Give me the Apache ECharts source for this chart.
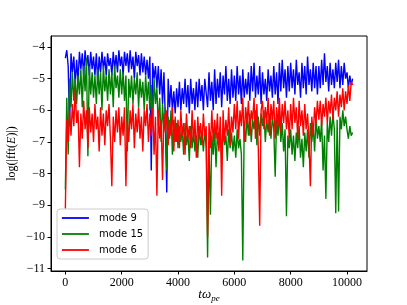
<!DOCTYPE html>
<html><head><meta charset="utf-8">
<script src="https://cdn.jsdelivr.net/npm/echarts@6/dist/echarts.min.js"></script>
<style>html,body{margin:0;padding:0;background:#fff}#c{width:407px;height:305px}</style>
</head><body><div id="c"></div>
<script>
const times = [
0,50,100,150,200,250,300,350,400,450,500,550,600,650,700,750,800,850,900,950,
1000,1050,1100,1150,1200,1250,1300,1350,1400,1450,1500,1550,1600,1650,1700,1750,1800,1850,1900,1950,
2000,2050,2100,2150,2200,2250,2300,2350,2400,2450,2500,2550,2600,2650,2700,2750,2800,2850,2900,2950,
3000,3050,3100,3150,3200,3250,3300,3350,3400,3450,3500,3550,3600,3650,3700,3750,3800,3850,3900,3950,
4000,4050,4100,4150,4200,4250,4300,4350,4400,4450,4500,4550,4600,4650,4700,4750,4800,4850,4900,4950,
5000,5050,5100,5150,5200,5250,5300,5350,5400,5450,5500,5550,5600,5650,5700,5750,5800,5850,5900,5950,
6000,6050,6100,6150,6200,6250,6300,6350,6400,6450,6500,6550,6600,6650,6700,6750,6800,6850,6900,6950,
7000,7050,7100,7150,7200,7250,7300,7350,7400,7450,7500,7550,7600,7650,7700,7750,7800,7850,7900,7950,
8000,8050,8100,8150,8200,8250,8300,8350,8400,8450,8500,8550,8600,8650,8700,8750,8800,8850,8900,8950,
9000,9050,9100,9150,9200,9250,9300,9350,9400,9450,9500,9550,9600,9650,9700,9750,9800,9850,9900,9950,
10000,10050,10100,10150,10200];

const mode9 = [
-4.35,-4.1,-4.6,-6.5,-4.2,-4.8,-4.3,-5.2,-4.4,-5.1,-4.15,-4.7,-4.2,-4.9,-4.1,-4.6,-4.25,-4.9,-4.15,-4.7,
-4.3,-4.9,-4.2,-5.1,-4.3,-4.8,-4.15,-4.7,-4.3,-4.9,-4.2,-4.6,-4.35,-4.9,-4.15,-4.7,-4.25,-4.8,-4.1,-4.6,
-4.3,-4.9,-4.15,-4.6,-4.2,-4.8,-4.1,-4.7,-4.3,-5.0,-4.15,-4.6,-4.25,-4.9,-4.2,-4.8,-4.3,-4.9,-4.4,-5.0,
-4.3,-7.9,-4.5,-5.0,-4.6,-5.3,-4.6,-5.5,-4.7,-5.8,-4.8,-6.3,-8.6,-5.0,-5.9,-5.2,-6.0,-5.4,-6.1,-5.3,
-5.9,-5.1,-6.0,-5.3,-5.8,-5.0,-5.9,-5.2,-6.1,-5.0,-5.8,-5.3,-6.0,-5.1,-5.9,-5.0,-5.7,-5.2,-6.0,-5.0,
-5.0,-5.9,-4.8,-5.7,-5.1,-6.0,-4.7,-5.8,-5.0,-5.6,-4.8,-5.9,-4.9,-5.5,-4.6,-5.7,-5.0,-5.8,-4.7,-5.6,
-4.9,-5.7,-4.6,-5.5,-4.9,-5.8,-4.7,-5.6,-5.0,-5.5,-4.8,-5.7,-4.6,-5.4,-4.5,-5.6,-4.9,-5.5,-4.6,-5.8,
-4.8,-5.5,-5.0,-5.7,-4.7,-5.4,-4.9,-5.6,-4.6,-5.5,-4.8,-5.8,-4.5,-5.4,-4.4,-5.3,-4.7,-5.6,-4.6,-5.4,
-4.5,-5.3,-4.7,-5.5,-4.4,-5.2,-4.8,-5.6,-4.5,-5.3,-4.6,-5.5,-4.3,-5.2,-4.7,-5.4,-4.5,-5.3,-4.6,-5.5,
-4.6,-5.3,-4.4,-5.2,-4.2,-5.1,-4.6,-5.4,-4.5,-5.2,-4.7,-5.3,-4.5,-5.1,-4.4,-5.3,-4.6,-5.2,-4.5,-5.0,
-4.8,-5.3,-4.9,-5.2,-5.0];

const mode15 = [
-8.5,-5.6,-7.4,-5.0,-5.9,-4.8,-5.7,-5.0,-5.8,-4.9,-5.5,-4.7,-5.9,-4.6,-5.4,-4.35,-7.45,-4.6,-5.5,-4.8,
-5.6,-4.9,-5.8,-4.7,-5.5,-4.8,-6.0,-4.6,-5.4,-4.9,-5.7,-4.7,-5.5,-4.8,-5.9,-4.6,-5.3,-4.9,-5.6,-4.7,
-5.5,-4.8,-5.7,-4.9,-7.3,-5.0,-5.6,-4.9,-5.8,-5.0,-5.5,-4.8,-5.9,-5.0,-5.6,-5.1,-6.0,-4.9,-5.7,-5.1,
-6.0,-5.2,-6.4,-5.0,-5.8,-5.3,-6.5,-5.6,-7.0,-5.8,-6.6,-5.9,-7.9,-6.2,-6.9,-6.0,-7.4,-6.3,-7.0,-6.4,
-7.2,-6.5,-7.0,-6.6,-7.4,-6.4,-7.1,-6.7,-7.6,-6.5,-7.2,-6.6,-7.3,-6.8,-7.5,-6.5,-7.1,-6.7,-7.3,-6.6,
-7.2,-10.65,-7.0,-9.3,-6.8,-7.4,-6.6,-7.8,-6.7,-7.2,-6.5,-7.5,-6.6,-7.1,-6.8,-7.6,-6.6,-7.2,-6.7,-7.3,
-6.8,-7.5,-6.6,-7.2,-6.9,-7.4,-10.75,-6.5,-7.0,-6.2,-6.8,-6.1,-7.0,-6.3,-6.6,-6.0,-7.1,-6.2,-6.8,-6.1,
-6.5,-6.0,-7.0,-6.3,-6.7,-6.1,-6.9,-6.2,-6.6,-8.1,-6.3,-6.8,-6.1,-7.0,-6.4,-7.3,-6.6,-9.35,-6.8,-7.2,
-6.6,-7.4,-6.8,-7.6,-6.7,-7.2,-6.5,-7.5,-6.9,-7.8,-6.7,-7.3,-6.6,-7.5,-6.4,-7.0,-6.5,-7.3,-6.2,-6.9,
-6.5,-7.0,-6.3,-7.9,-6.8,-8.8,-6.4,-7.0,-6.2,-6.8,-6.1,-6.6,-9.25,-6.3,-9.2,-6.2,-6.6,-6.0,-6.5,-6.2,
-6.6,-6.9,-6.5,-6.8,-6.7];

const mode6 = [
-9.1,-6.3,-7.0,-6.0,-6.8,-5.8,-6.5,-5.3,-6.4,-6.0,-7.8,-6.1,-6.9,-5.7,-6.6,-6.0,-7.2,-5.9,-6.7,-6.1,
-7.0,-5.8,-6.6,-6.2,-7.3,-5.9,-6.8,-6.1,-7.1,-6.0,-6.5,-5.8,-6.9,-8.4,-6.2,-7.0,-6.0,-6.7,-5.9,-7.1,
-6.2,-6.8,-5.9,-8.4,-6.3,-7.0,-6.0,-6.6,-5.8,-7.2,-6.1,-6.7,-5.9,-6.9,-6.2,-7.3,-6.0,-6.5,-5.8,-7.0,
-6.1,-6.8,-5.9,-7.4,-6.2,-8.7,-6.0,-6.9,-6.3,-8.2,-6.1,-6.7,-6.0,-7.1,-6.3,-6.8,-5.9,-7.3,-6.2,-7.0,
-6.3,-7.2,-6.0,-6.8,-6.4,-7.4,-6.1,-6.9,-6.5,-7.2,-6.0,-7.0,-6.3,-7.5,-6.2,-6.9,-6.4,-7.1,-6.1,-6.8,
-6.5,-10.0,-6.4,-7.2,-6.0,-7.0,-6.3,-6.9,-6.1,-7.3,-6.2,-8.7,-6.0,-7.0,-6.3,-6.8,-5.9,-7.1,-6.2,-6.7,
-5.8,-6.6,-5.7,-6.9,-6.0,-6.5,-5.6,-7.0,-5.9,-6.4,-5.7,-6.8,-6.0,-6.3,-5.6,-6.9,-5.8,-7.2,-9.65,-6.0,
-5.7,-6.6,-5.9,-6.4,-5.6,-6.8,-5.8,-6.3,-5.7,-6.9,-5.9,-6.5,-5.6,-6.7,-5.8,-6.4,-5.7,-6.6,-6.0,-6.9,
-5.8,-6.6,-5.6,-6.4,-5.9,-6.9,-5.7,-6.5,-6.0,-6.8,-5.8,-6.6,-6.1,-7.0,-8.4,-6.2,-6.8,-5.9,-6.4,-5.7,
-6.3,-5.7,-6.5,-5.8,-6.2,-5.6,-6.4,-5.7,-6.1,-5.5,-6.3,-5.6,-6.0,-5.4,-6.2,-5.5,-5.9,-5.3,-6.0,-5.4,
-5.8,-5.2,-5.7,-5.1,-5.2];

const xTicks = [0,2000,4000,6000,8000,10000];
const yTicks = [-11,-10,-9,-8,-7,-6,-5,-4];
const seriesNames = ['mode 9','mode 15','mode 6'];
const seriesColors = ['#0000ff','#008000','#ff0000'];

function pairs(ys){ return ys.map((v,i)=>[times[i], v]); }
const allData = [mode9, mode15, mode6];
const fmt = v => (v < 0 ? '\u2212' + Math.abs(v) : String(v));
const serif = 'Liberation Serif';

const chart = echarts.init(document.getElementById('c'), null, {renderer:'canvas'});
chart.setOption({
  animation:false,
  backgroundColor:'#ffffff',
  grid:{left:51, right:40, top:36, bottom:34, containLabel:false, outerBoundsMode:'none',
        show:true, borderColor:'#000', borderWidth:1, backgroundColor:'transparent'},
  xAxis:{type:'value', min:-510, max:10710,
    axisLine:{show:true, onZero:false, lineStyle:{color:'#000', width:1}},
    axisTick:{show:true, inside:false, length:3.5, customValues:xTicks, lineStyle:{color:'#000'}},
    axisLabel:{show:true, margin:6, customValues:xTicks, color:'#000', fontFamily:serif, fontSize:12, formatter:fmt},
    splitLine:{show:false},
    name:'{a|t\u03c9}{b|pe}', nameLocation:'middle', nameGap:15, nameMoveOverlap:false,
    nameTextStyle:{rich:{a:{fontFamily:serif, fontStyle:'italic', fontSize:13, color:'#000'},
                         b:{fontFamily:serif, fontStyle:'italic', fontSize:9, color:'#000', padding:[8,0,0,0]}}}
  },
  yAxis:{type:'value', min:-11.08, max:-3.65,
    axisLine:{show:true, onZero:false, lineStyle:{color:'#000', width:1}},
    axisTick:{show:true, inside:false, length:3.5, customValues:yTicks, lineStyle:{color:'#000'}},
    axisLabel:{show:true, margin:6, customValues:yTicks, color:'#000', fontFamily:serif, fontSize:12, formatter:fmt},
    splitLine:{show:false},
    name:'{a|log(|fft(}{b|E}{a|)|)}', nameLocation:'middle', nameGap:33, nameRotate:90, nameMoveOverlap:false,
    nameTextStyle:{rich:{a:{fontFamily:serif, fontSize:12, color:'#000'},
                         b:{fontFamily:serif, fontStyle:'italic', fontSize:12, color:'#000'}}}
  },
  legend:{orient:'vertical', left:57, top:209, padding:[4,5,4,4], itemGap:6,
    itemWidth:27, itemHeight:12, borderColor:'#cccccc', borderWidth:1, borderRadius:3,
    backgroundColor:'rgba(255,255,255,0.8)',
    itemStyle:{opacity:0},
    lineStyle:{width:1.8},
    textStyle:{fontFamily:'DejaVu Sans', fontSize:10, color:'#000', padding:[0,0,0,5]},
    data:seriesNames},
  series: allData.map((d,k)=>({
    name:seriesNames[k], type:'line', data:pairs(d), symbol:'none', showSymbol:false,
    lineStyle:{color:seriesColors[k], width:1.4}, itemStyle:{color:seriesColors[k]},
    emphasis:{disabled:true}, z:2+k
  }))
});
</script>
</body></html>
